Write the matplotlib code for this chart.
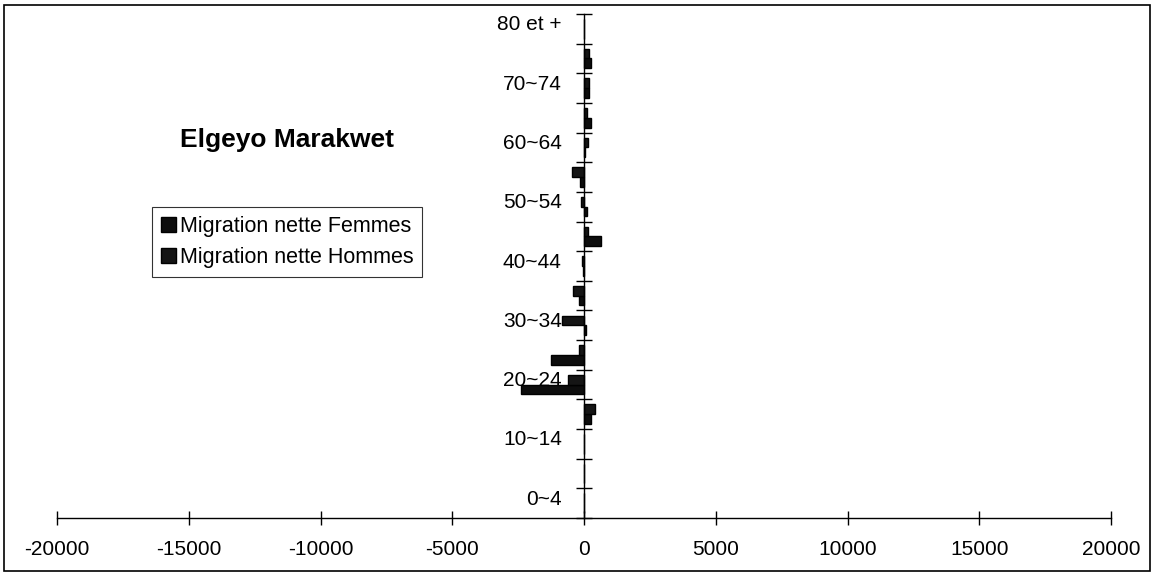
import numpy as np
import matplotlib
matplotlib.use('Agg')
from matplotlib import pyplot
from matplotlib.patches import Rectangle

pyplot.rcParams['font.family'] = ['Liberation Sans', 'DejaVu Sans']

# Age groups, bottom to top
ageGroups = ['0~4', '5~9', '10~14', '15~19', '20~24', '25~29', '30~34', '35~39',
             '40~44', '45~49', '50~54', '55~59', '60~64', '65~69', '70~74',
             '75~79', '80 et +']

# Net migration (approximate)
femmes = [0, 0, 0, 250, -2400, -1250, 80, -200,
          -40, 650, 100, -150, 50, 250, 200, 280, 0]
hommes = [0, 0, 0, 400, -600, -200, -850, -400,
          -60, 150, -100, -450, 150, 100, 200, 200, 0]

xTicks = [-20000, -15000, -10000, -5000, 0, 5000, 10000, 15000, 20000]

W, H = 1153, 574
fig = pyplot.figure(figsize=[W / 100, H / 100], dpi=100)
ax = fig.add_axes([57 / W, (H - 518) / H, (1111 - 57) / W, (518 - 14) / H])

pos = np.arange(len(ageGroups))
barH = 0.33

ax.barh(pos - barH / 2, femmes, height=barH, color='#0d0d0d',
        edgecolor='black', linewidth=1, label='Migration nette Femmes')
ax.barh(pos + barH / 2, hommes, height=barH, color='#151515',
        edgecolor='black', linewidth=1, label='Migration nette Hommes')

ax.set_xlim(-20000, 20000)
ax.set_ylim(-0.5, len(ageGroups) - 0.5)

# Spines: y axis at zero, x axis at bottom
for side in ['top', 'right']:
    ax.spines[side].set_visible(False)
ax.spines['left'].set_position(('data', 0))
ax.spines['left'].set_zorder(3)
ax.spines['left'].set_linewidth(1)
ax.spines['bottom'].set_linewidth(1)

# X ticks
ax.set_xticks(xTicks)
ax.set_xticklabels([str(t) for t in xTicks])
ax.tick_params(axis='x', direction='inout', length=10, width=1,
               labelsize=15, pad=11)

# Y ticks: marks at band boundaries, labels every other group
ax.set_yticks(np.arange(len(ageGroups) + 1) - 0.5)
ax.set_yticklabels([])
ax.tick_params(axis='y', which='major', direction='inout', length=11, width=1)
labelPos = pos[::2]
ax.set_yticks(labelPos + 0.2, minor=True)
ax.set_yticklabels([ageGroups[i] for i in labelPos], minor=True)
ax.tick_params(axis='y', which='minor', length=0, labelsize=15, pad=16)

# Title text
fig.text(287 / W, 1 - 140 / H, 'Elgeyo Marakwet', fontsize=19,
         fontweight='bold', ha='center', va='center')

# Legend
leg = ax.legend(
    loc='upper left',
    bbox_to_anchor=(152 / W, 1 - 207 / H),
    bbox_transform=fig.transFigure,
    fontsize=15.5,
    frameon=True,
    fancybox=False,
    handlelength=0.7,
    handleheight=0.7,
    handletextpad=0.2,
    borderpad=0.4,
    labelspacing=0.5,
    borderaxespad=0)
leg.get_frame().set_edgecolor('black')
leg.get_frame().set_linewidth(0.8)

# Outer border
fig.patches.append(Rectangle((4 / W, 3 / H), (W - 7) / W, (H - 8) / H,
                             transform=fig.transFigure, fill=False,
                             edgecolor='black', linewidth=1.2))

fig.savefig('out.png', dpi=100)
